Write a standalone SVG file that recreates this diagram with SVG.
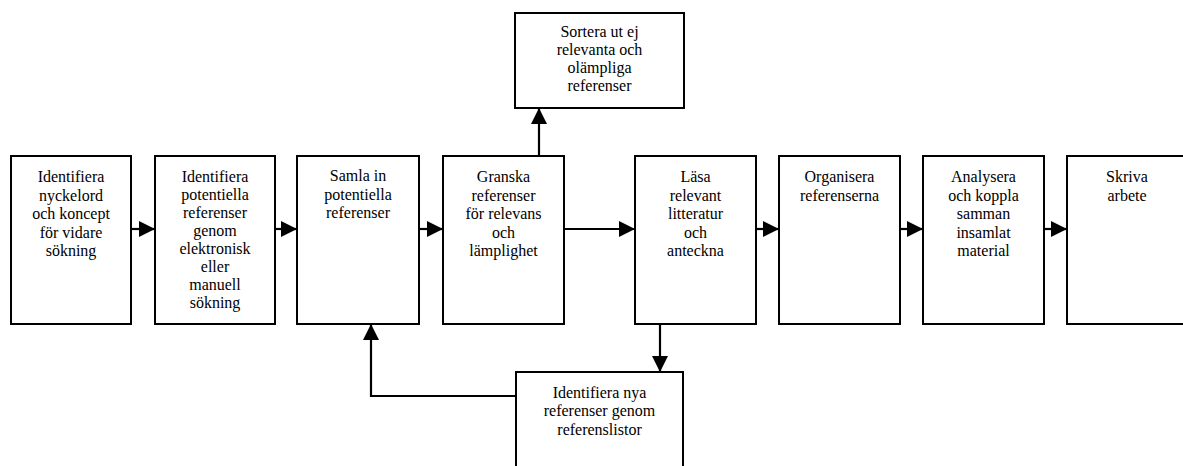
<svg xmlns="http://www.w3.org/2000/svg" width="1183" height="466" viewBox="0 0 1183 466">
<style>
.box{fill:#fff;stroke:#000;stroke-width:2}
.c{fill:none;stroke:#000;stroke-width:2.2}
</style>
<defs>
<marker id="ah" markerUnits="userSpaceOnUse" markerWidth="16" markerHeight="16" refX="16" refY="8" orient="auto">
<path d="M0,0 L16,8 L0,16 Z" fill="#000"/>
</marker>
</defs>
<rect width="1183" height="466" fill="#fff"/>
<g id="connectors">
<line class="c" x1="131" y1="229" x2="155" y2="229" marker-end="url(#ah)"/>
<line class="c" x1="275" y1="229" x2="297" y2="229" marker-end="url(#ah)"/>
<line class="c" x1="419" y1="229" x2="443" y2="229" marker-end="url(#ah)"/>
<line class="c" x1="564" y1="229" x2="635" y2="229" marker-end="url(#ah)"/>
<line class="c" x1="756" y1="229" x2="779" y2="229" marker-end="url(#ah)"/>
<line class="c" x1="900" y1="229" x2="923" y2="229" marker-end="url(#ah)"/>
<line class="c" x1="1044" y1="229" x2="1067" y2="229" marker-end="url(#ah)"/>
<line class="c" x1="539" y1="156" x2="539" y2="108" marker-end="url(#ah)"/>
<line class="c" x1="660" y1="324" x2="660" y2="372" marker-end="url(#ah)"/>
<polyline class="c" points="516,396 371,396 371,324" marker-end="url(#ah)"/>
</g>
<g font-family="'Liberation Serif', 'DejaVu Serif', serif" font-size="16" fill="#000" text-anchor="middle">
<g id="n1"><rect class="box" x="11" y="156" width="120" height="168"/>
<text x="71" y="182">Identifiera</text><text x="71" y="200.5">nyckelord</text><text x="71" y="219">och koncept</text><text x="71" y="237.5">för vidare</text><text x="71" y="256">sökning</text></g>
<g id="n2"><rect class="box" x="155" y="156" width="120" height="168"/>
<text x="215" y="182">Identifiera</text><text x="215" y="200">potentiella</text><text x="215" y="218">referenser</text><text x="215" y="236">genom</text><text x="215" y="254">elektronisk</text><text x="215" y="272">eller</text><text x="215" y="290">manuell</text><text x="215" y="308">sökning</text></g>
<g id="n3"><rect class="box" x="297" y="156" width="122" height="168"/>
<text x="358" y="181">Samla in</text><text x="358" y="199.5">potentiella</text><text x="358" y="218">referenser</text></g>
<g id="n4"><rect class="box" x="443" y="156" width="121" height="168"/>
<text x="503.5" y="182">Granska</text><text x="503.5" y="200.5">referenser</text><text x="503.5" y="219">för relevans</text><text x="503.5" y="237.5">och</text><text x="503.5" y="256">lämplighet</text></g>
<g id="n5"><rect class="box" x="635" y="156" width="121" height="168"/>
<text x="695.5" y="182">Läsa</text><text x="695.5" y="200.5">relevant</text><text x="695.5" y="219">litteratur</text><text x="695.5" y="237.5">och</text><text x="695.5" y="256">anteckna</text></g>
<g id="n6"><rect class="box" x="779" y="156" width="121" height="168"/>
<text x="839.5" y="182">Organisera</text><text x="839.5" y="200.5">referenserna</text></g>
<g id="n7"><rect class="box" x="923" y="156" width="121" height="168"/>
<text x="983.5" y="182">Analysera</text><text x="983.5" y="200.5">och koppla</text><text x="983.5" y="219">samman</text><text x="983.5" y="237.5">insamlat</text><text x="983.5" y="256">material</text></g>
<g id="n8"><rect class="box" x="1067" y="156" width="121" height="168"/>
<text x="1127" y="182">Skriva</text><text x="1127" y="200.5">arbete</text></g>
<g id="n9"><rect class="box" x="515" y="13" width="169" height="95"/>
<text x="599.5" y="37">Sortera ut ej</text><text x="599.5" y="55">relevanta och</text><text x="599.5" y="73">olämpliga</text><text x="599.5" y="91">referenser</text></g>
<g id="n10"><rect class="box" x="516" y="372" width="167" height="110"/>
<text x="599.5" y="397.5">Identifiera nya</text><text x="599.5" y="416">referenser genom</text><text x="599.5" y="434.5">referenslistor</text></g>
</g>
</svg>
